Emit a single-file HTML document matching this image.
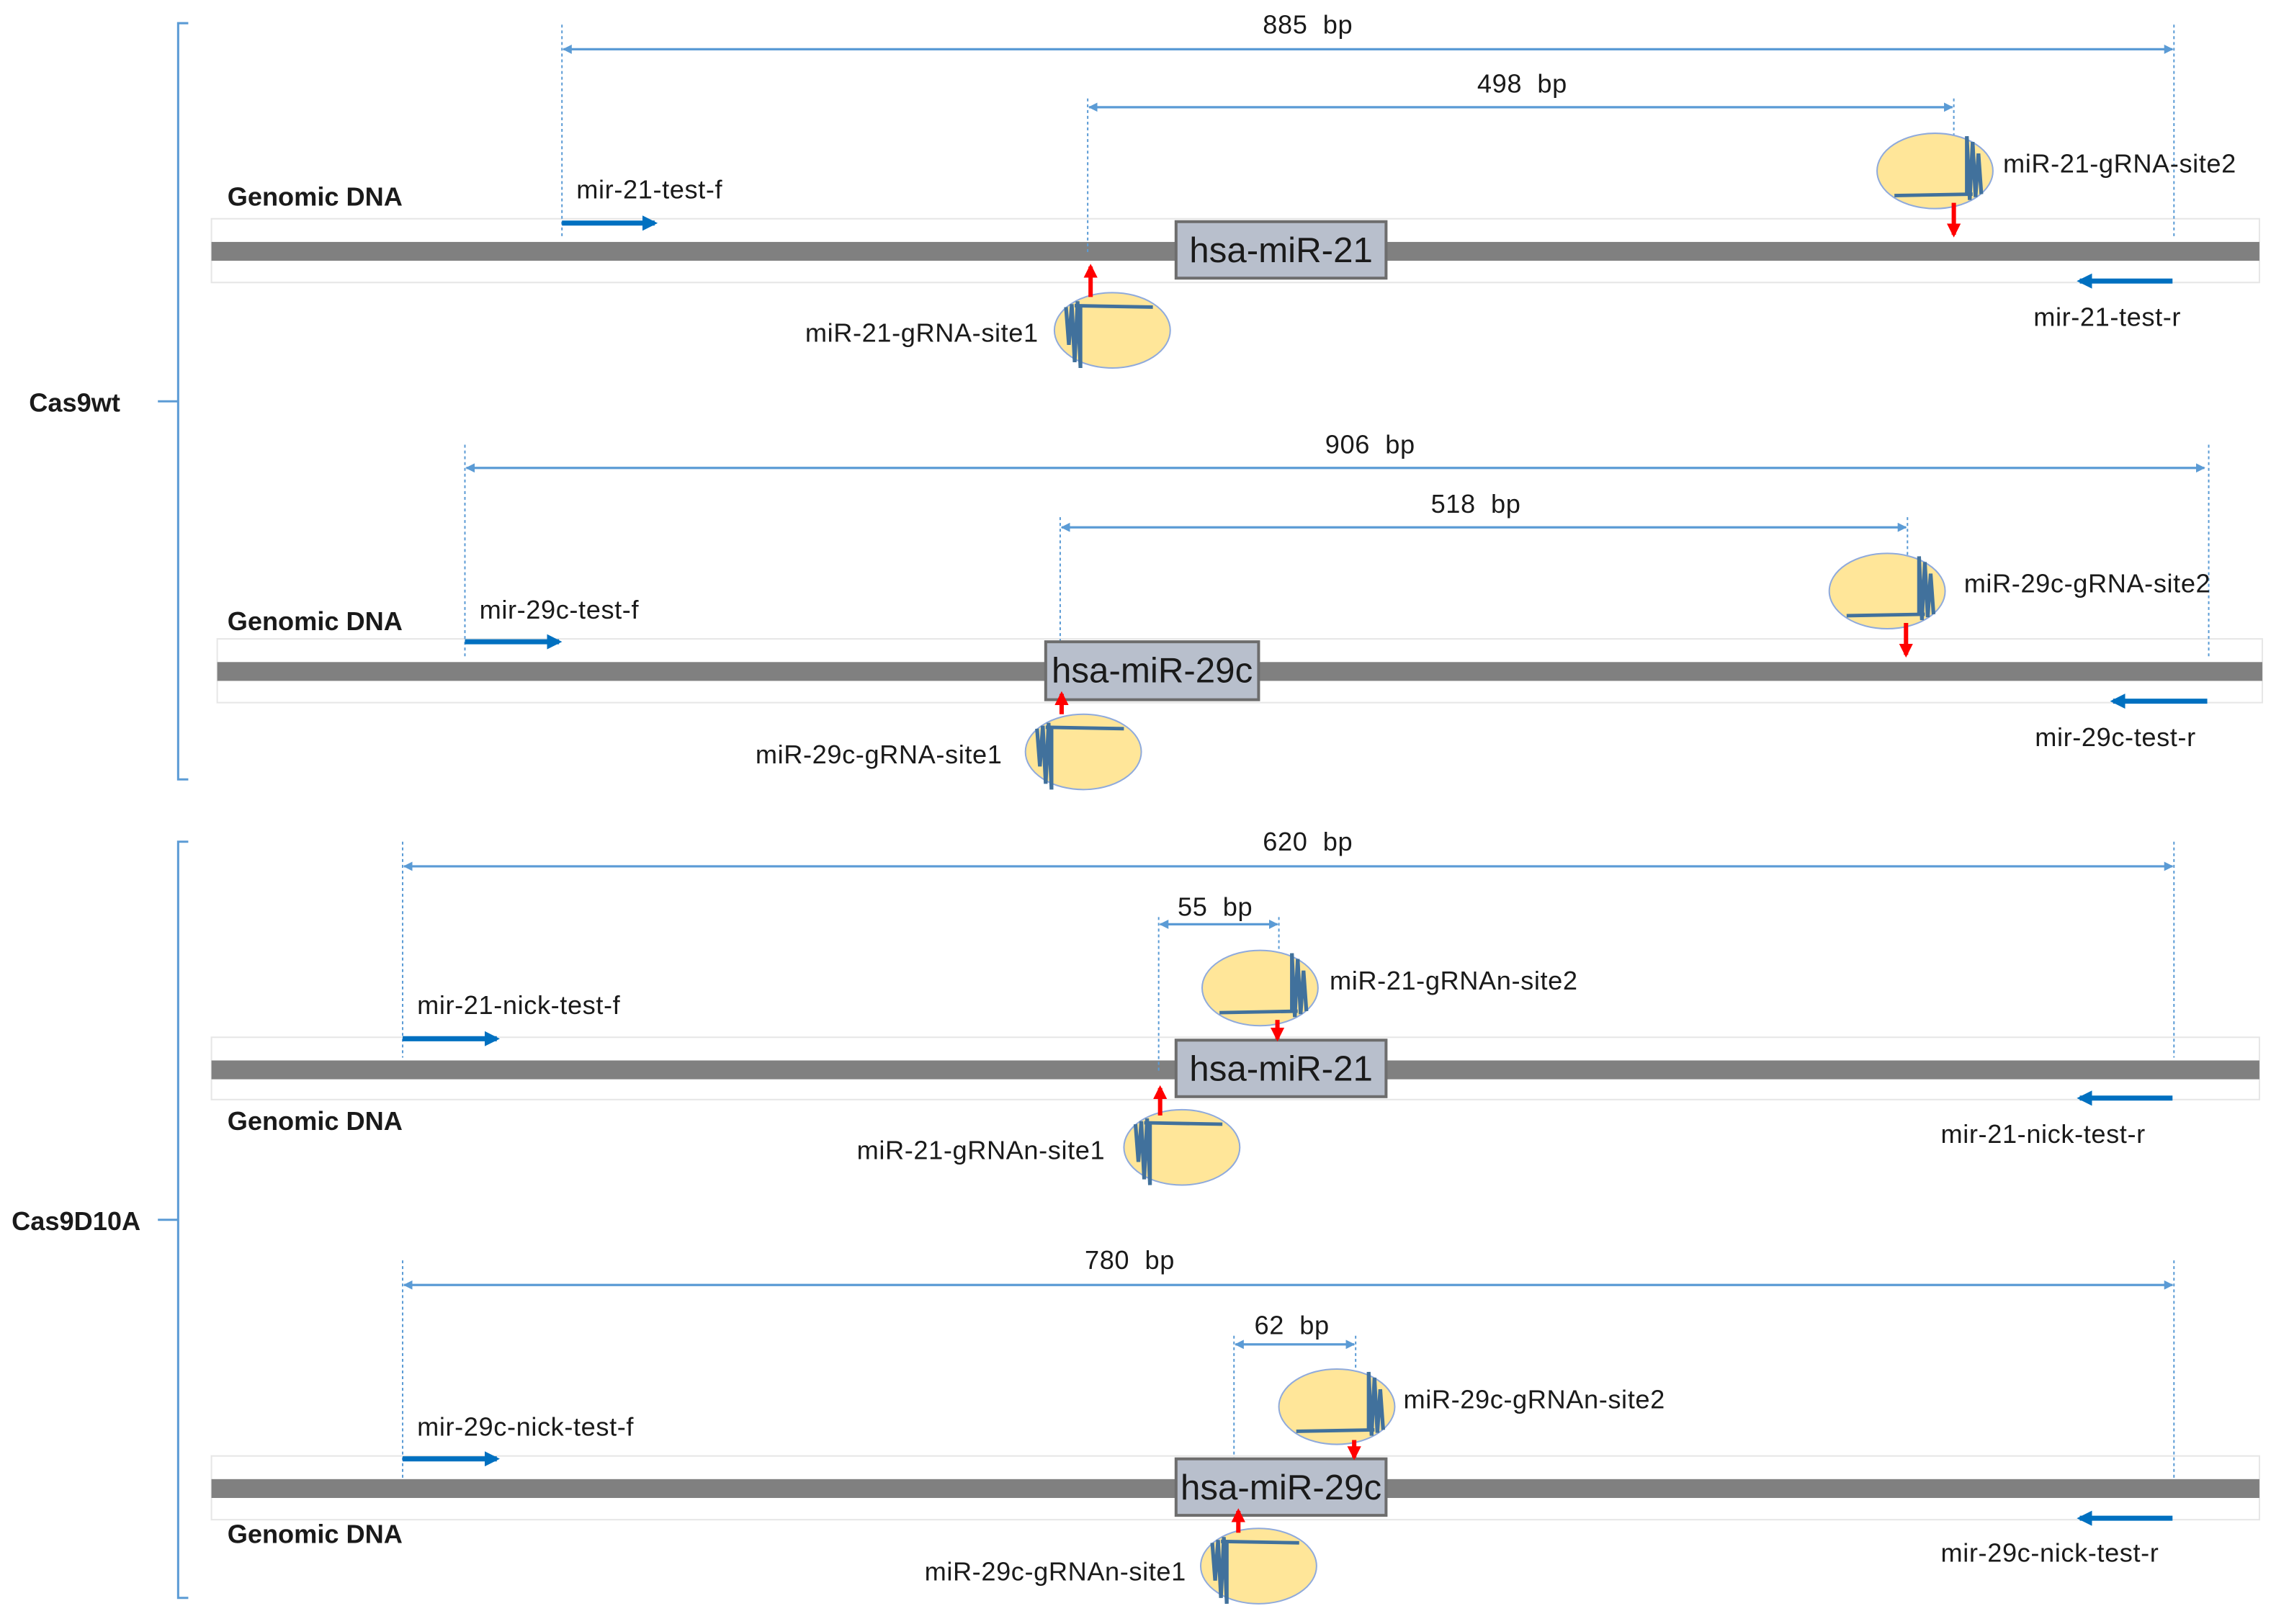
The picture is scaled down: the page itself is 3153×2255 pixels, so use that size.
<!DOCTYPE html>
<html><head><meta charset="utf-8"><style>
html,body{margin:0;padding:0;background:#fff;}
svg{display:block;}
text{font-family:"Liberation Sans",sans-serif;fill:#1a1a1a;}
.l{font-size:18px;letter-spacing:0.3px;}
.b{font-size:18px;font-weight:bold;}
.box{font-size:24.5px;}
</style></head><body>
<svg width="3153" height="2255" viewBox="0 0 1568 1121" preserveAspectRatio="none" xmlns="http://www.w3.org/2000/svg">
<defs>
<marker id="ah" viewBox="0 0 10 10" refX="9" refY="5" markerWidth="4" markerHeight="4" orient="auto-start-reverse"><path d="M0,0 L10,5 L0,10 z" fill="#5b9bd5"/></marker>
<marker id="bh" viewBox="0 0 10 10" refX="8" refY="5" markerWidth="3" markerHeight="3" orient="auto"><path d="M0,0 L10,5 L0,10 z" fill="#0070c0"/></marker>
<marker id="rh" viewBox="0 0 10 10" refX="8" refY="5" markerWidth="3.2" markerHeight="3.2" orient="auto"><path d="M0,0 L10,5 L0,10 z" fill="#ff0000"/></marker>
<g id="scL">
<ellipse cx="0" cy="0" rx="40" ry="26" fill="#ffe699" stroke="#8faadc" stroke-width="1"/>
<path d="M-26,-17 L28,-16" stroke="#41719c" stroke-width="2.4"/>
<path d="M-32,-16 L-30,10 L-28,-18 L-26,22 L-24,-20 L-22,26 L-22,-17" stroke="#41719c" stroke-width="2.6" fill="none"/>
</g>
<g id="scR">
<ellipse cx="0" cy="0" rx="40" ry="26" fill="#ffe699" stroke="#8faadc" stroke-width="1"/>
<path d="M-28,17 L26,16" stroke="#41719c" stroke-width="2.4"/>
<path d="M22,17 L22,-24 L24,20 L26,-20 L28,18 L30,-12 L32,16" stroke="#41719c" stroke-width="2.6" fill="none"/>
</g>
</defs>

<g stroke="#5b9bd5" stroke-width="1.5" fill="none">
<path d="M130,16 L123,16 L123,538 L130,538 M109,277 L123,277"/>
<path d="M130,581 L123,581 L123,1103 L130,1103 M109,842 L123,842"/>
</g>
<text class="b" x="20" y="284">Cas9wt</text>
<text class="b" x="8" y="849">Cas9D10A</text>

<!-- ===== Section 1 ===== -->
<rect x="146" y="151" width="1414" height="44" fill="#fff" stroke="#e6e6e6" stroke-width="1"/>
<rect x="146" y="167" width="1414" height="13" fill="#808080"/>
<g stroke="#5b9bd5" stroke-width="1" stroke-dasharray="2,2" fill="none">
<path d="M388,17 V165 M1501,17 V165 M751,68 V175 M1349,68 V140"/>
</g>
<g stroke="#5b9bd5" stroke-width="1.6" fill="none">
<path d="M389,34 H1500" marker-start="url(#ah)" marker-end="url(#ah)"/>
<path d="M752,74 H1348" marker-start="url(#ah)" marker-end="url(#ah)"/>
</g>
<text class="l" x="903" y="23" text-anchor="middle">885&#160; bp</text>
<text class="l" x="1051" y="64" text-anchor="middle">498&#160; bp</text>
<rect x="812" y="153" width="145" height="39" fill="#b8bfcc" stroke="#6d6d6d" stroke-width="2"/>
<text class="box" x="884.5" y="181" text-anchor="middle">hsa-miR-21</text>
<text class="b" x="157" y="142">Genomic DNA</text>
<path d="M388,154 H452" stroke="#0070c0" stroke-width="3.5" marker-end="url(#bh)"/>
<text class="l" x="398" y="137">mir-21-test-f</text>
<path d="M1500,194 H1436" stroke="#0070c0" stroke-width="3.5" marker-end="url(#bh)"/>
<text class="l" x="1404" y="225">mir-21-test-r</text>
<use href="#scL" x="768" y="228"/>
<path d="M753,205 V184" stroke="#ff0000" stroke-width="3" marker-end="url(#rh)"/>
<text class="l" x="717" y="236" text-anchor="end">miR-21-gRNA-site1</text>
<use href="#scR" x="1336" y="118"/>
<path d="M1349,140 V162" stroke="#ff0000" stroke-width="3" marker-end="url(#rh)"/>
<text class="l" x="1383" y="119">miR-21-gRNA-site2</text>

<!-- ===== Section 2 ===== -->
<rect x="150" y="441" width="1412" height="44" fill="#fff" stroke="#e6e6e6" stroke-width="1"/>
<rect x="150" y="457" width="1412" height="13" fill="#808080"/>
<g stroke="#5b9bd5" stroke-width="1" stroke-dasharray="2,2" fill="none">
<path d="M321,307 V455 M1525,307 V455 M732,357 V465 M1317,357 V430"/>
</g>
<g stroke="#5b9bd5" stroke-width="1.6" fill="none">
<path d="M322,323 H1522" marker-start="url(#ah)" marker-end="url(#ah)"/>
<path d="M733,364 H1316" marker-start="url(#ah)" marker-end="url(#ah)"/>
</g>
<text class="l" x="946" y="313" text-anchor="middle">906&#160; bp</text>
<text class="l" x="1019" y="354" text-anchor="middle">518&#160; bp</text>
<rect x="722" y="443" width="147" height="40" fill="#b8bfcc" stroke="#6d6d6d" stroke-width="2"/>
<text class="box" x="795.5" y="471" text-anchor="middle">hsa-miR-29c</text>
<text class="b" x="157" y="435">Genomic DNA</text>
<path d="M321,443 H386" stroke="#0070c0" stroke-width="3.5" marker-end="url(#bh)"/>
<text class="l" x="331" y="427">mir-29c-test-f</text>
<path d="M1524,484 H1459" stroke="#0070c0" stroke-width="3.5" marker-end="url(#bh)"/>
<text class="l" x="1405" y="515">mir-29c-test-r</text>
<use href="#scL" x="748" y="519"/>
<path d="M733,493 V479" stroke="#ff0000" stroke-width="3" marker-end="url(#rh)"/>
<text class="l" x="692" y="527" text-anchor="end">miR-29c-gRNA-site1</text>
<use href="#scR" x="1303" y="408"/>
<path d="M1316,430 V452" stroke="#ff0000" stroke-width="3" marker-end="url(#rh)"/>
<text class="l" x="1356" y="409">miR-29c-gRNA-site2</text>

<!-- ===== Section 3 ===== -->
<rect x="146" y="716" width="1414" height="43" fill="#fff" stroke="#e6e6e6" stroke-width="1"/>
<rect x="146" y="732" width="1414" height="13" fill="#808080"/>
<g stroke="#5b9bd5" stroke-width="1" stroke-dasharray="2,2" fill="none">
<path d="M278,581 V730 M1501,581 V730 M800,633 V740 M883,633 V715"/>
</g>
<g stroke="#5b9bd5" stroke-width="1.6" fill="none">
<path d="M279,598 H1500" marker-start="url(#ah)" marker-end="url(#ah)"/>
<path d="M801,638 H882" marker-start="url(#ah)" marker-end="url(#ah)"/>
</g>
<text class="l" x="903" y="587" text-anchor="middle">620&#160; bp</text>
<text class="l" x="839" y="632" text-anchor="middle">55&#160; bp</text>
<rect x="812" y="718" width="145" height="39" fill="#b8bfcc" stroke="#6d6d6d" stroke-width="2"/>
<text class="box" x="884.5" y="746" text-anchor="middle">hsa-miR-21</text>
<text class="b" x="157" y="780">Genomic DNA</text>
<path d="M278,717 H343" stroke="#0070c0" stroke-width="3.5" marker-end="url(#bh)"/>
<text class="l" x="288" y="700">mir-21-nick-test-f</text>
<path d="M1500,758 H1436" stroke="#0070c0" stroke-width="3.5" marker-end="url(#bh)"/>
<text class="l" x="1340" y="789">mir-21-nick-test-r</text>
<use href="#scL" x="816" y="792"/>
<path d="M801,770 V751" stroke="#ff0000" stroke-width="3" marker-end="url(#rh)"/>
<text class="l" x="763" y="800" text-anchor="end">miR-21-gRNAn-site1</text>
<use href="#scR" x="870" y="682"/>
<path d="M882,704 V717" stroke="#ff0000" stroke-width="3" marker-end="url(#rh)"/>
<text class="l" x="918" y="683">miR-21-gRNAn-site2</text>

<!-- ===== Section 4 ===== -->
<rect x="146" y="1005" width="1414" height="44" fill="#fff" stroke="#e6e6e6" stroke-width="1"/>
<rect x="146" y="1021" width="1414" height="13" fill="#808080"/>
<g stroke="#5b9bd5" stroke-width="1" stroke-dasharray="2,2" fill="none">
<path d="M278,870 V1020 M1501,870 V1020 M852,922 V1030 M936,922 V1000"/>
</g>
<g stroke="#5b9bd5" stroke-width="1.6" fill="none">
<path d="M279,887 H1500" marker-start="url(#ah)" marker-end="url(#ah)"/>
<path d="M853,928 H935" marker-start="url(#ah)" marker-end="url(#ah)"/>
</g>
<text class="l" x="780" y="876" text-anchor="middle">780&#160; bp</text>
<text class="l" x="892" y="921" text-anchor="middle">62&#160; bp</text>
<rect x="812" y="1007" width="145" height="39" fill="#b8bfcc" stroke="#6d6d6d" stroke-width="2"/>
<text class="box" x="884.5" y="1035" text-anchor="middle">hsa-miR-29c</text>
<text class="b" x="157" y="1065">Genomic DNA</text>
<path d="M278,1007 H343" stroke="#0070c0" stroke-width="3.5" marker-end="url(#bh)"/>
<text class="l" x="288" y="991">mir-29c-nick-test-f</text>
<path d="M1500,1048 H1436" stroke="#0070c0" stroke-width="3.5" marker-end="url(#bh)"/>
<text class="l" x="1340" y="1078">mir-29c-nick-test-r</text>
<use href="#scL" x="869" y="1081"/>
<path d="M855,1058 V1043" stroke="#ff0000" stroke-width="3" marker-end="url(#rh)"/>
<text class="l" x="819" y="1091" text-anchor="end">miR-29c-gRNAn-site1</text>
<use href="#scR" x="923" y="971"/>
<path d="M935,994 V1006" stroke="#ff0000" stroke-width="3" marker-end="url(#rh)"/>
<text class="l" x="969" y="972">miR-29c-gRNAn-site2</text>
</svg>
</body></html>
